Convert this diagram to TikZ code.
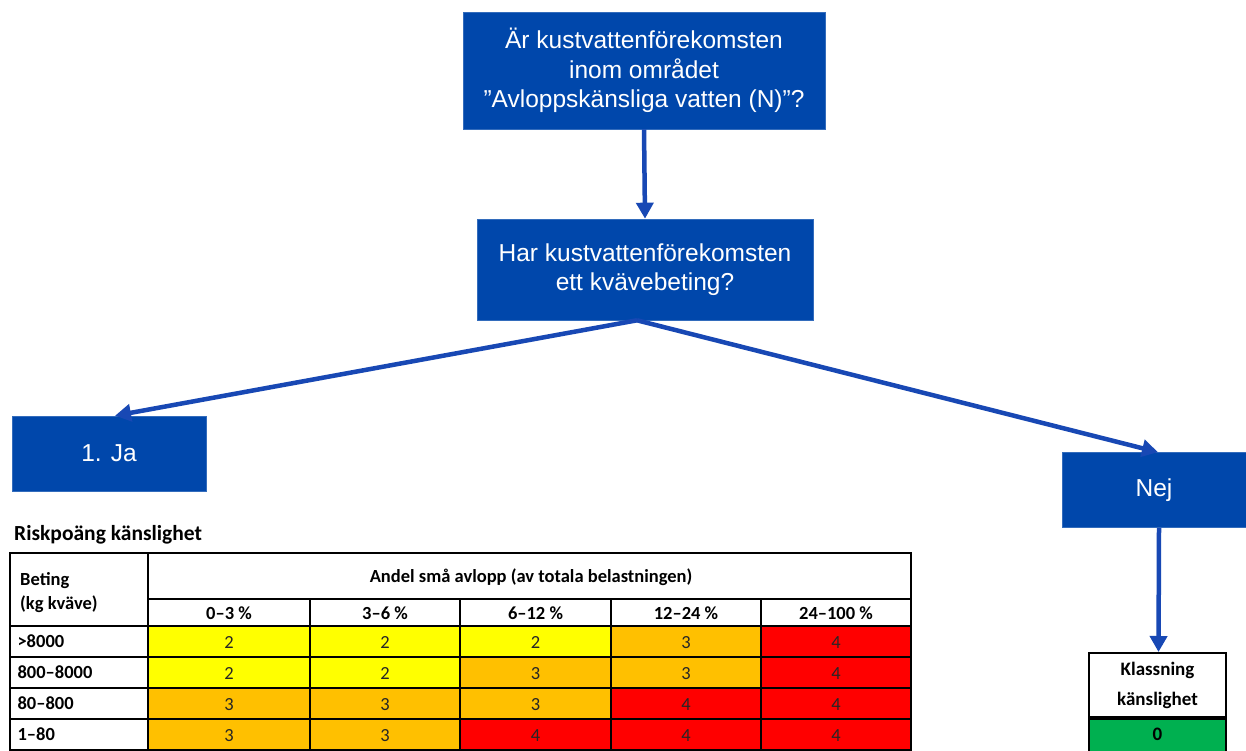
\documentclass[tikz,border=0pt]{standalone}
\usepackage{fontspec}
\setmainfont{Liberation Sans}
\newfontfamily\calib{Carlito}
\usetikzlibrary{arrows.meta}
\definecolor{boxblue}{RGB}{0,71,171}
\definecolor{arrblue}{RGB}{24,72,180}
\definecolor{v2}{RGB}{255,255,0}
\definecolor{v3}{RGB}{255,192,0}
\definecolor{v4}{RGB}{255,0,0}
\definecolor{vgreen}{RGB}{0,176,80}
\tikzset{
  qbox/.style={draw=boxblue!80!white, line width=0.6pt, fill=boxblue, text=white, align=center, font=\fontsize{24.5}{29.5}\selectfont, inner sep=0pt},
  arr/.style={draw=arrblue, line width=4.5pt, -{Triangle[length=16pt,width=17pt]}},
  grid/.style={draw=black, line width=2pt},
  tb/.style={font=\calib\bfseries\fontsize{18.5}{22}\selectfont},
  tn/.style={font=\calib\fontsize{18.5}{22}\selectfont, text=black!85},
}
\begin{document}
\begin{tikzpicture}[x=1pt,y=-1pt]
\useasboundingbox (0,0) rectangle (1246,751);
\fill[white] (0,0) rectangle (1246,751);
% flow boxes
\node[qbox, minimum width=362pt, minimum height=117pt] (top) at (644,70.5) {Är kustvattenförekomsten\\inom området\\”Avloppskänsliga vatten (N)”?};
\node[qbox, minimum width=336pt, minimum height=101pt] (second) at (645,269.5) {Har kustvattenförekomsten\\ett kvävebeting?};
\node[qbox, minimum width=194pt, minimum height=75pt] (ja) at (109,453.5) {1. Ja};
\node[qbox, minimum width=184pt, minimum height=75pt] (nej) at (1154,490) {Nej};
% classification
\node[draw=black, line width=2pt, fill=white, minimum width=137pt, minimum height=64pt, inner sep=0pt, align=center, font=\calib\bfseries\fontsize{19}{30}\selectfont] (klass) at (1157.5,685) {Klassning\\känslighet};
\node[draw=black, line width=2pt, fill=vgreen, minimum width=137pt, minimum height=40pt, inner sep=0pt, anchor=north, font=\calib\bfseries\fontsize{19}{22}\selectfont] (klassv) at (klass.south) {\raisebox{9pt}{0}};
% arrows
\draw[arr] (top.south) -- (second.north);
\coordinate (split) at ([xshift=-8pt]second.south);
\draw[arr] (split) -- ([xshift=6pt]ja.north);
\draw[arr] (split) -- ([xshift=4pt]nej.north);
\draw[arr] ([xshift=5pt]nej.south) -- ([xshift=1pt]klass.north);
% table
\node[anchor=base west, inner sep=0pt, font=\calib\bfseries\fontsize{21.5}{24}\selectfont] (title) at (14,540) {Riskpoäng känslighet};
\foreach \ya/\yb/\lab/\vals in {626/657/{>8000}/{2,2,2,3,4}, 657/688/{800–8000}/{2,2,3,3,4}, 688/719/{80–800}/{3,3,3,4,4}, 719/750/{1–80}/{3,3,4,4,4}}{
  \node[tb, anchor=west] at (14,{(\ya+\yb)/2}) {\lab};
  \foreach \v [count=\i] in \vals {
    \pgfmathsetmacro\xa{{148,310,460,611,761}[\i-1]}
    \pgfmathsetmacro\xb{{310,460,611,761,911}[\i-1]}
    \fill[v\v] (\xa,\ya) rectangle (\xb,\yb);
    \node[tn] at ({(\xa+\xb)/2},{(\ya+\yb)/2+1}) {\v};
  }
}
\node[tb, anchor=base west, inner sep=0pt] (beting) at (20,585) {Beting};
\node[tb, anchor=base west, inner sep=0pt] at (20,609) {(kg kväve)};
\node[tb] (andel) at (531,577) {Andel små avlopp (av totala belastningen)};
\foreach \t [count=\i] in {0–3 \%, 3–6 \%, 6–12 \%, 12–24 \%, 24–100 \%}{
  \pgfmathsetmacro\xa{{148,310,460,611,761}[\i-1]}
  \pgfmathsetmacro\xb{{310,460,611,761,911}[\i-1]}
  \node[tb] at ({(\xa+\xb)/2},613) {\t};
}
\draw[grid] (10,553) rectangle (911,750);
\draw[grid] (148,553) -- (148,750);
\draw[grid] (148,599) -- (911,599);
\foreach \y in {626,657,688,719} \draw[grid] (10,\y) -- (911,\y);
\foreach \x in {310,460,611,761} \draw[grid] (\x,599) -- (\x,750);
\end{tikzpicture}
\end{document}
